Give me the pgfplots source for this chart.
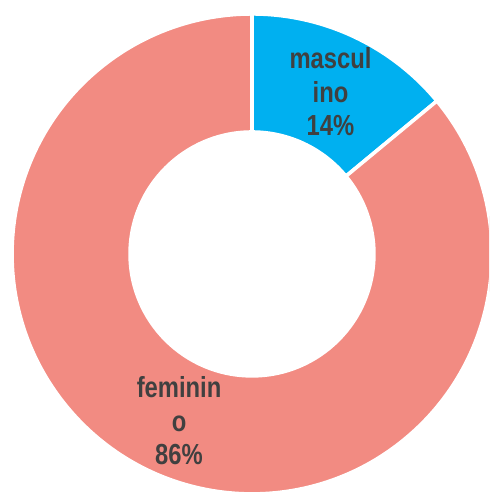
\documentclass[border=0pt]{standalone}
\usepackage{pgfplots}
\usepackage{pgfplotstable}
\pgfplotsset{compat=1.18}
\usepackage{fontspec}
\setmainfont{Liberation Sans}[FakeStretch=0.82]
\definecolor{cmasc}{HTML}{00B0F0}
\definecolor{cfem}{HTML}{F28B82}
\definecolor{ctxt}{HTML}{404040}

\pgfplotstableread{
label value
masculino 14
feminino 86
}\sexdata

\begin{document}
\begin{tikzpicture}
\begin{axis}[
	name=ax,
	scale only axis,
	width=244.5pt, height=246.5pt,
	xmin=-1.05, xmax=0.9875,
	ymin=-0.996, ymax=1.058,
	hide axis,
	clip=true,
]
\pgfplotstablegetelem{0}{value}\of\sexdata \let\vA\pgfplotsretval
\pgfplotstablegetelem{1}{value}\of\sexdata \let\vB\pgfplotsretval
\pgfmathsetmacro{\aS}{90}
\pgfmathsetmacro{\aM}{90-3.6*\vA}
\pgfmathsetmacro{\aE}{\aM-3.6*\vB}
% masculino
\fill[cmasc, draw=white, line width=1.8pt]
	(axis cs:{cos(\aS)},{sin(\aS)}) arc[start angle=\aS, end angle=\aM, radius=1]
	-- (axis cs:{0.508*cos(\aM)},{0.508*sin(\aM)}) arc[start angle=\aM, end angle=\aS, radius=0.508] -- cycle;
% feminino
\fill[cfem, draw=white, line width=1.8pt]
	(axis cs:{cos(\aM)},{sin(\aM)}) arc[start angle=\aM, end angle=\aE, radius=1]
	-- (axis cs:{0.508*cos(\aE)},{0.508*sin(\aE)}) arc[start angle=\aE, end angle=\aM, radius=0.508] -- cycle;
\node[align=center, text=ctxt, font=\bfseries\fontsize{14.5}{16.8}\selectfont]
	at (axis cs:0.327,0.675) {mascul\\ino\\14\%};
\node[align=center, text=ctxt, font=\bfseries\fontsize{14.5}{16.8}\selectfont]
	at (axis cs:-0.304,-0.695) {feminin\\o\\86\%};
\end{axis}
\pgfresetboundingbox
\useasboundingbox (ax.south west) rectangle (ax.north east);
\end{tikzpicture}
\end{document}
